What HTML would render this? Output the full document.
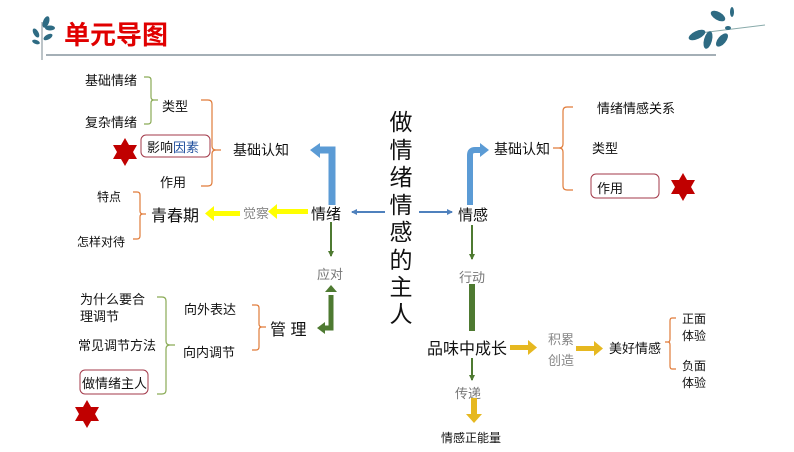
<!DOCTYPE html>
<html><head><meta charset="utf-8"><style>
body{margin:0;background:#fff;}
svg text{font-family:"Liberation Sans","Noto Sans CJK SC",sans-serif;}
</style></head><body>
<svg width="794" height="447" viewBox="0 0 794 447" xmlns="http://www.w3.org/2000/svg">
<defs>
<marker id="bh" markerWidth="6" markerHeight="6" refX="5" refY="3" orient="auto" markerUnits="userSpaceOnUse"><path d="M0,0 L6,3 L0,6 z" fill="#4f81bd"/></marker>
<marker id="gh" markerWidth="6" markerHeight="6" refX="5" refY="3" orient="auto" markerUnits="userSpaceOnUse"><path d="M0,0 L6,3 L0,6 z" fill="#4e7a31"/></marker>
</defs>
<!-- header -->
<g fill="#2e6b83">
<path d="M42,60 L42,22" stroke="#7a8a90" stroke-width="1"/>
<ellipse cx="46" cy="22" rx="3" ry="6" transform="rotate(20 46 22)"/>
<ellipse cx="50" cy="28" rx="5" ry="2.5"/>
<ellipse cx="36" cy="33" rx="2.5" ry="5" transform="rotate(-30 36 33)"/>
<ellipse cx="48" cy="37" rx="5" ry="2.5" transform="rotate(-30 48 37)"/>
<ellipse cx="36" cy="42" rx="4" ry="2" transform="rotate(20 36 42)"/>
</g>
<text x="64" y="44" font-size="26" font-weight="bold" fill="#e00000">单元导图</text>
<line x1="46" y1="55" x2="716" y2="55" stroke="#6d7f8a" stroke-width="1.2"/>
<g fill="#2e6b83">
<path d="M700,33 L765,25" stroke="#8aa" stroke-width="1"/>
<ellipse cx="718" cy="16" rx="8" ry="4" transform="rotate(30 718 16)"/>
<ellipse cx="732" cy="12" rx="2" ry="5"/>
<ellipse cx="697" cy="35" rx="9" ry="4" transform="rotate(-25 697 35)"/>
<ellipse cx="708" cy="40" rx="4" ry="9" transform="rotate(15 708 40)"/>
<ellipse cx="722" cy="40" rx="4" ry="8" transform="rotate(40 722 40)"/>
<ellipse cx="728" cy="28" rx="3" ry="2"/>
</g>
<!-- center title -->
<g font-size="23" fill="#111" text-anchor="middle">
<text x="401" y="130">做</text><text x="401" y="158">情</text><text x="401" y="185">绪</text><text x="401" y="213">情</text>
<text x="401" y="240">感</text><text x="401" y="268">的</text><text x="401" y="295">主</text><text x="401" y="322">人</text>
</g>
<!-- left -->
<line x1="385" y1="212" x2="352" y2="212" stroke="#4f81bd" stroke-width="2" marker-end="url(#bh)"/>
<text x="311" y="219" font-size="15" fill="#111">情绪</text>
<path d="M332,205 L332,150 L318,150" fill="none" stroke="#5b9bd5" stroke-width="7"/>
<path d="M320,143 L310,150 L320,158 z" fill="#5b9bd5"/>
<text x="233" y="155" font-size="14" fill="#111">基础认知</text>
<rect x="275" y="209" width="33" height="5" fill="#ffff00"/><path d="M277,204 L268,211.5 L277,219z" fill="#ffff00"/>
<text x="243" y="218" font-size="13" fill="#888">觉察</text>
<rect x="212" y="211" width="28" height="5" fill="#ffff00"/><path d="M214,206 L205,213.5 L214,221z" fill="#ffff00"/>
<text x="151" y="221" font-size="16" fill="#111">青春期</text>
<g fill="none" stroke="#e07b39" stroke-width="1.2">
<path d="M201,100 L208,100 Q212,100 212,104 L212,146 Q212,150 216,150 L221,150 M216,150 Q212,150 212,154 L212,182 Q212,186 208,186 L201,186"/>
<path d="M133,192 L137,192 Q140,192 140,195 L140,211 Q140,214 143,214 L146,214 M143,214 Q140,214 140,217 L140,236 Q140,239 137,239 L133,239"/>
<path d="M252,305 L256,305 Q259,305 259,308 L259,324 Q259,327 262,327 L266,327 M262,327 Q259,327 259,330 L259,347 Q259,350 256,350 L252,350"/>
<path d="M573,107 L567,107 Q563,107 563,111 L563,144 Q563,148 559,148 L553,148 M559,148 Q563,148 563,152 L563,186 Q563,190 567,190 L573,190"/>
<path d="M676,318 L672,318 Q670,318 670,321 L670,339 Q670,342 668,342 L665,342 M668,342 Q670,342 670,345 L670,366 Q670,369 672,369 L676,369"/>
</g>
<g fill="none" stroke="#8aab56" stroke-width="1.2">
<path d="M144,77 L148,77 Q151,77 151,80 L151,97 Q151,100 154,100 L158,100 M154,100 Q151,100 151,103 L151,121 Q151,124 148,124 L144,124"/>
<path d="M157,297 L162,297 Q166,297 166,301 L166,341 Q166,345 170,345 L175,345 M170,345 Q166,345 166,349 L166,390 Q166,394 162,394 L157,394"/>
</g>
<g font-size="13" fill="#111">
<text x="162" y="111">类型</text>
<text x="85" y="85">基础情绪</text><text x="85" y="127">复杂情绪</text>
<text x="160" y="187">作用</text>
<text x="97" y="201" font-size="12">特点</text><text x="77" y="246" font-size="12">怎样对待</text>
</g>
<rect x="141" y="135" width="69" height="22" rx="5" fill="none" stroke="#a33a4a" stroke-width="1"/>
<text x="147" y="152" font-size="13" fill="#111">影响<tspan fill="#1f4e9c">因素</tspan></text>
<path d="M125,138 L129,145 L137,145 L133,152 L137,159 L129,159 L125,166 L121,159 L113,159 L117,152 L113,145 L121,145 z" fill="#c00000"/>
<line x1="331" y1="222" x2="331" y2="256" stroke="#4e7a31" stroke-width="2" marker-end="url(#gh)"/>
<text x="317" y="279" font-size="13" fill="#777">应对</text>
<path d="M331,295 L331,328 L324,328" fill="none" stroke="#4e7a31" stroke-width="5"/>
<path d="M325,292 L331,285 L337,292z" fill="#4e7a31"/><path d="M325,322 L317,328 L325,334z" fill="#4e7a31"/>
<text x="270" y="335" font-size="16" fill="#111">管 理</text>
<g font-size="13" fill="#111">
<text x="184" y="314">向外表达</text><text x="183" y="357">向内调节</text>
<text x="80" y="304">为什么要合</text><text x="80" y="321">理调节</text>
<text x="78" y="350">常见调节方法</text>
<text x="82" y="388">做情绪主人</text>
</g>
<rect x="80" y="370" width="68" height="24" rx="5" fill="none" stroke="#a33a4a" stroke-width="1"/>
<path d="M87,400 L91,407 L99,407 L95,414 L99,421 L91,421 L87,428 L83,421 L75,421 L79,414 L75,407 L83,407 z" fill="#c00000"/>
<!-- right -->
<line x1="419" y1="212" x2="452" y2="212" stroke="#4f81bd" stroke-width="2" marker-end="url(#bh)"/>
<text x="458" y="220" font-size="15" fill="#111">情感</text>
<path d="M470,205 L470,155 Q470,150 475,150 L481,150" fill="none" stroke="#5b9bd5" stroke-width="6"/>
<path d="M480,143 L489,150 L480,157z" fill="#5b9bd5"/>
<text x="494" y="154" font-size="14" fill="#111">基础认知</text>
<g font-size="13" fill="#111">
<text x="597" y="113">情绪情感关系</text><text x="592" y="153">类型</text><text x="597" y="193">作用</text>
</g>
<rect x="591" y="174" width="68" height="24" rx="5" fill="none" stroke="#a33a4a" stroke-width="1"/>
<path d="M683,173 L687,180 L695,180 L691,187 L695,194 L687,194 L683,201 L679,194 L671,194 L675,187 L671,180 L679,180 z" fill="#c00000"/>
<line x1="472" y1="225" x2="472" y2="259" stroke="#4e7a31" stroke-width="2" marker-end="url(#gh)"/>
<text x="459" y="282" font-size="13" fill="#777">行动</text>
<rect x="469" y="284" width="6" height="47" fill="#4e7a31"/>
<text x="427" y="354" font-size="16" fill="#111">品味中成长</text>
<rect x="510" y="345" width="19" height="5" fill="#e6b820"/><path d="M528,340 L537,347.5 L528,355z" fill="#e6b820"/>
<text x="548" y="344" font-size="13" fill="#888">积累</text><text x="548" y="365" font-size="13" fill="#888">创造</text>
<rect x="576" y="346" width="19" height="5" fill="#e6b820"/><path d="M594,341 L603,348.5 L594,356z" fill="#e6b820"/>
<text x="609" y="353" font-size="13" fill="#111">美好情感</text>
<g font-size="12" fill="#111">
<text x="682" y="323">正面</text><text x="682" y="340">体验</text>
<text x="682" y="370">负面</text><text x="682" y="387">体验</text>
</g>
<line x1="472" y1="358" x2="472" y2="380" stroke="#4e7a31" stroke-width="2" marker-end="url(#gh)"/>
<text x="455" y="398" font-size="13" fill="#777">传递</text>
<rect x="471" y="398" width="6" height="18" fill="#e6b820"/><path d="M466,414 L474,423 L482,414z" fill="#e6b820"/>
<text x="441" y="442" font-size="12" fill="#111">情感正能量</text>
</svg>
</body></html>
